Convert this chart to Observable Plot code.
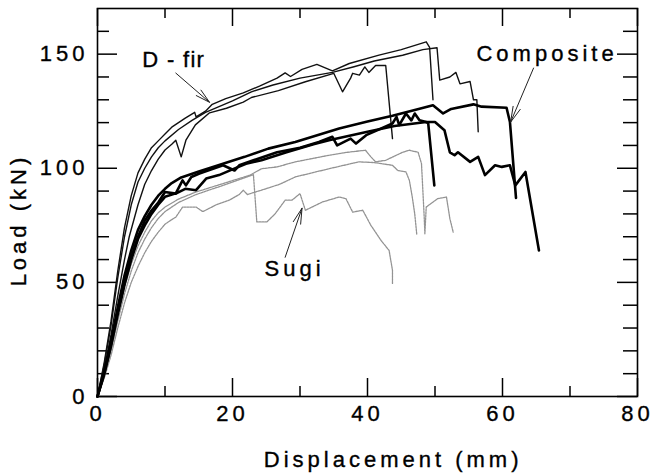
<!DOCTYPE html>
<html><head><meta charset="utf-8">
<script src="https://cdn.jsdelivr.net/npm/d3@7"></script>
<script src="https://cdn.jsdelivr.net/npm/@observablehq/plot@0.6"></script>
<style>
body{margin:0;background:#fff}
#chart svg text{stroke:#000;stroke-width:0.35px;}
</style></head><body><div id="chart"></div>
<script>
// Load–displacement curves [displacement (mm), load (kN)]
const dfirA = [[0,0],[1,15],[2,33],[3,55],[4,74],[5,88],[6,98],[7,104],[8,109],[9,112],[10,115],[11,118],[12,120],[13,122],[14.4,124.5],[14.6,122.5],[16,125],[17,128],[19,130.5],[21.6,133],[24,136],[26.6,139.5],[27.8,141.8],[28.6,140.2],[30.3,143.3],[32.5,145.5],[34.8,142.7],[37.3,145.9],[41.7,149.6],[45,152],[48.7,155.4],[49.2,153],[49.7,130]];
const dfirB = [[0,0],[1,14],[2,31],[3,52],[4,70],[5,84],[6,94],[7,100],[8,105],[9,109],[10,112],[12,117],[14,121],[16,124.5],[18,127],[20,129.5],[22.8,133.5],[26,136.5],[30,139.5],[34.8,142],[38,144.5],[41,147],[45.2,149.5],[48.2,152],[50.3,152.8],[50.7,138.6],[52.2,140],[53.1,142],[53.7,137],[55.2,138],[55.7,130],[56.2,130],[56.4,116]];
const dfirC = [[0,0],[1,12],[2,27],[3,44],[4,60],[4.7,70],[6,84],[7,93],[8,99],[9,104],[10,108],[11,110.5],[11.6,112.3],[12.4,105],[13.1,112.3],[14.5,119],[16.6,124.3],[19.1,126.3],[21.6,129],[22.8,131],[26.8,134],[30.8,137.9],[35,141.6],[36.3,133.5],[37.5,139.5],[37.8,141.6],[38.8,140.8],[39.6,144.4],[40.2,142],[41.2,145],[42.7,145],[43.7,113]];

const compA = [[0,0],[1,11],[2,24],[3,39],[4,53],[5,64],[6,73],[7,79],[8,84],[9,88],[10,91],[11,93.5],[12.4,96],[14.9,98.5],[17.9,101.3],[21.8,105],[25.3,108.6],[29.3,111.5],[35.8,117.4],[40,120.5],[43.7,123],[47,125.5],[49.7,127.6],[51.2,124],[52.4,126],[55.7,128],[56.9,127],[60.6,126.5],[61.1,120.3],[62,87]];
const compB = [[0,0],[1,10],[2,22],[3,36],[4,49],[5,60],[6,69],[7,75],[8,80],[9,84],[10,87.5],[11.6,89],[12.6,94.7],[13.1,92.5],[13.9,96.2],[15.1,97.7],[18.6,101.3],[20.3,99],[21,101.3],[23.1,103.5],[26.6,107],[30,109],[32.8,111.5],[34.8,113.8],[35.5,110],[37.5,113],[38.3,110.8],[39.8,114.5],[43.7,119.6],[44.3,122.5],[44.7,118.9],[45.7,124],[46.5,121],[47,124],[47.7,121],[48.7,120.3],[50,120.3],[51.4,116.7],[52.2,107],[52.9,105.7],[53.4,107],[55.2,102.8],[56.4,105],[57.4,97],[58.9,101.3],[59.9,100.6],[61.1,101.3],[61.9,92.5],[63.4,98.4],[65.4,64]];
const compC = [[0,0],[1,10],[2,23],[3,37],[4,50],[5,61],[6,70],[7,77],[8,81.5],[9,85],[10,89.6],[11.6,88.9],[13,91],[14.6,90.4],[16.1,95.5],[18,97],[20,99.5],[22,102],[24.3,103.5],[28,107],[32,110.5],[34.3,112.3],[40,116],[44,118.5],[48.7,120.3],[49,119.6],[49.9,92.5]];

const sugiA = [[0,0],[1,10],[2,22],[3,36],[4,48],[5,58],[6,66],[7,72],[8,77],[9,80.5],[10,83],[12,86.5],[14.6,89.6],[18.6,93.3],[22.6,97],[24.3,99.8],[26.6,100.6],[29.3,102.8],[34.3,105.7],[37,107],[39.7,107.9],[40.5,105],[41.2,102.8],[42.7,103.5],[45.2,107],[46.2,107.9],[47.5,107],[48,102],[48.4,78.6],[48.5,71.3],[48.7,83],[50.4,86.7],[51.7,87.4],[52.2,78],[52.7,72]];
const sugiB = [[0,0],[1,8],[2,18],[3,30],[4,41],[5,50],[6,57],[7,63],[8,68],[9,72],[10,75.5],[11,77.5],[11.6,78.6],[12.6,83],[14.6,83],[15.6,81],[17.6,84],[19.5,86],[21,88.5],[21.6,90.4],[22.2,88.5],[24.3,90.4],[27,93],[29.3,96.2],[34.3,99.8],[38.7,102.8],[41,102.5],[43.7,101.3],[44.5,99],[45.7,98.4],[46.2,94.7],[46.6,88],[47,80],[47.3,71]];
const sugiC = [[0,0],[1,9],[2,20],[3,33],[4,45],[5,55],[6,63],[7,69],[8,74],[9,78],[10,81],[12,85],[14.6,88.5],[18.6,92.5],[21,95],[23.1,97.2],[23.6,76.5],[25.1,76.5],[26.3,80],[27.8,86],[28.8,86],[30,88.9],[30.8,81.6],[33.3,85.2],[35.8,87.4],[36.8,86.7],[37.8,80.8],[39.3,81.6],[40.5,75],[42,68.4],[43.2,64],[43.7,55.3],[43.7,49.4]];

const xTickLabels = [0, 20, 40, 60, 80];
const xMinorTicks = [10, 30, 50, 70];
const yTickLabels = [0, 50, 100, 150];
const yMinorTicks = [10, 20, 30, 40, 60, 70, 80, 90, 110, 120, 130, 140, 160];

const annotations = [
  {label: "D - fir", x: 11.3, y: 147.4, x1: 11.6, y1: 141.7, x2: 16.6, y2: 128.9},
  {label: "Composite", x: 66.6, y: 150.2, x1: 64.6, y1: 143.9, x2: 61.2, y2: 120.2},
  {label: "Sugi", x: 29.2, y: 55.7, x1: 27.8, y1: 61, x2: 30.3, y2: 82.5}
];
const axisTitles = [
  {text: "Displacement (mm)", x: 43.8, y: -27.6, rotate: 0},
  {text: "Load (kN)", x: -11.7, y: 77.3, rotate: -90}
];

const toRows = (arr, group, id) => arr.map(([x, y]) => ({x, y, group, id}));
const dfir = [...toRows(dfirA, "D - fir", "d1"), ...toRows(dfirB, "D - fir", "d2"), ...toRows(dfirC, "D - fir", "d3")];
const comp = [...toRows(compA, "Composite", "c1"), ...toRows(compB, "Composite", "c2"), ...toRows(compC, "Composite", "c3")];
const sugi = [...toRows(sugiA, "Sugi", "s1"), ...toRows(sugiB, "Sugi", "s2"), ...toRows(sugiC, "Sugi", "s3")];

const W = 656, H = 474, mL = 97, mR = 19, mT = 8, mB = 78;
const pw = W - mL - mR, ph = H - mT - mB;

const chart = Plot.plot({
  width: W, height: H,
  marginLeft: mL, marginRight: mR, marginTop: mT, marginBottom: mB,
  style: {fontFamily: "'Liberation Sans', Arial, Helvetica, sans-serif", fontSize: "22px", background: "#fff", letterSpacing: "4px"},
  x: {domain: [0, 80]},
  y: {domain: [0, 170]},
  marks: [
    Plot.tickX(xTickLabels, {x: d => d, insetTop: ph - 18, strokeWidth: 1.5}),
    Plot.tickX(xMinorTicks, {x: d => d, insetTop: ph - 10, strokeWidth: 1.5}),
    Plot.tickX(xTickLabels, {x: d => d, insetBottom: ph - 18, strokeWidth: 1.5}),
    Plot.tickX(xMinorTicks, {x: d => d, insetBottom: ph - 10, strokeWidth: 1.5}),
    Plot.tickY(yTickLabels, {y: d => d, insetRight: pw - 20, strokeWidth: 1.5}),
    Plot.tickY(yMinorTicks, {y: d => d, insetRight: pw - 12, strokeWidth: 1.5}),
    Plot.tickY(yTickLabels, {y: d => d, insetLeft: pw - 20, strokeWidth: 1.5}),
    Plot.tickY(yMinorTicks, {y: d => d, insetLeft: pw - 14, strokeWidth: 1.5}),
    Plot.axisX(xTickLabels, {anchor: "bottom", tickSize: 0, tickPadding: 9, label: null, fontSize: 22}),
    Plot.axisY(yTickLabels, {anchor: "left", tickSize: 0, tickPadding: 9, label: null, fontSize: 22}),
    Plot.line(sugi, {x: "x", y: "y", z: "id", stroke: "#939393", strokeWidth: 1.3, strokeDasharray: "2,1"}),
    Plot.line(dfir, {x: "x", y: "y", z: "id", stroke: "#111", strokeWidth: 1.4}),
    Plot.line(comp, {x: "x", y: "y", z: "id", stroke: "#000", strokeWidth: 2.6}),
    Plot.arrow(annotations, {x1: "x1", y1: "y1", x2: "x2", y2: "y2", stroke: "#222", strokeWidth: 1, headLength: 24, headAngle: 28}),
    Plot.text(annotations, {x: "x", y: "y", text: "label", fontSize: 22, fill: "#000"}),
    Plot.text(axisTitles, {x: "x", y: "y", text: "text", rotate: "rotate", fontSize: 22, fill: "#000"}),
    Plot.frame({stroke: "#000", strokeWidth: 1.6})
  ]
});
document.getElementById("chart").appendChild(chart);
d3.select(chart).selectAll("text").filter(function(){ return this.textContent === "D - fir"; }).style("letter-spacing", "1.3px");
</script>
</body></html>
